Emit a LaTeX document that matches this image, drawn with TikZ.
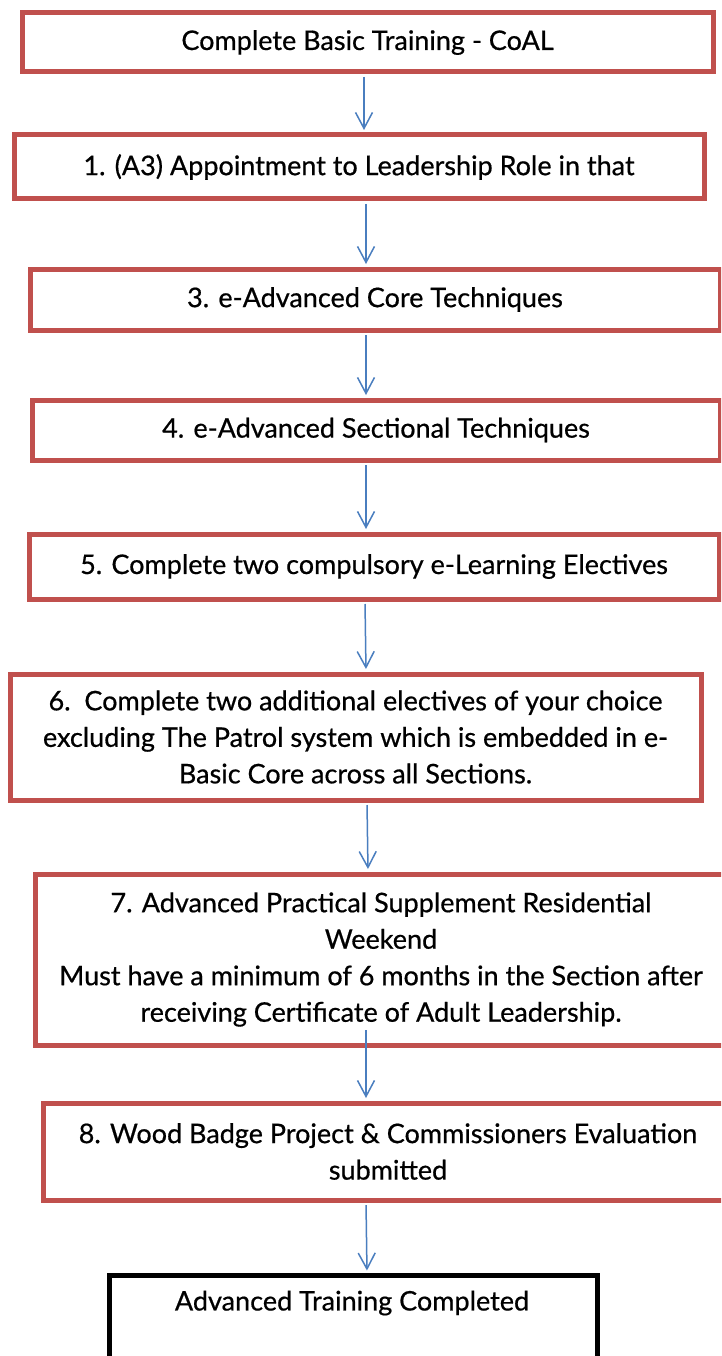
\documentclass[tikz,border=0pt]{standalone}
\usepackage{fontspec}
\setmainfont{Lato}
\newfontfamily\boxfont{Lato}[FakeBold=0.6]
\usetikzlibrary{arrows.meta}
\definecolor{boxred}{HTML}{C0504D}
\definecolor{arrblue}{HTML}{4A7EBF}
\begin{document}
\begin{tikzpicture}[x=1pt,y=-1pt,
  redbox/.style={draw=boxred,line width=5pt,inner sep=0pt,align=center,
    font=\boxfont\fontsize{27}{36.5}\selectfont},
  blackbox/.style={draw=black,line width=5pt,inner sep=0pt},
  txt/.style={inner sep=0pt,align=center,font=\boxfont\fontsize{27}{36.5}\selectfont},
  arr/.style={draw=arrblue,line width=1.5pt,-{Straight Barb[length=16pt,width=17pt]},
    shorten <=2.5pt,shorten >=2.5pt}]
\useasboundingbox (0,0) rectangle (721,1356);
\clip (0,0) rectangle (721,1356);
\fill[white] (0,0) rectangle (721,1356);
% boxes: (left+right)/2, (top+bottom)/2
\node[redbox,minimum width=691,minimum height=59] (b1) at (367.5,42.5) {Complete Basic Training - CoAL};
\node[redbox,minimum width=690,minimum height=64] (b2) at (359,167) {1. (A3) Appointment to Leadership Role in that};
\node[redbox,minimum width=690,minimum height=61] (b3) at (375,299.5) {3. e-Advanced Core Techniques};
\node[redbox,minimum width=688,minimum height=60] (b4) at (376,430) {4. e-Advanced Sectional Techniques};
\node[redbox,minimum width=690,minimum height=65] (b5) at (374,566.5) {5. Complete two compulsory e-Learning Electives};
\node[redbox,minimum width=691,minimum height=126] (b6) at (355.5,737) {6.\ \ Complete two additional electives of your choice\\excluding The Patrol system which is embedded in e-\\Basic Core across all Sections.};
\node[redbox,minimum width=692,minimum height=171] (b7) at (381,959.5) {7. Advanced Practical Supplement Residential\\Weekend\\Must have a minimum of 6 months in the Section after\\receiving Certificate of Adult Leadership.};
\node[redbox,minimum width=690,minimum height=97] (b8) at (388,1151.5) {8. Wood Badge Project \& Commissioners Evaluation\\submitted};
\node[blackbox,minimum width=488,minimum height=140,anchor=north] (b9) at (353,1273) {};
\node[txt] (t9) at (352,1303) {Advanced Training Completed};
% arrows
\coordinate (s7) at (366,1030);
\draw[arr] (364,0 |- b1.south) -- (364,0 |- b2.north);
\draw[arr] (366,0 |- b2.south) -- (366,0 |- b3.north);
\draw[arr] (366,0 |- b3.south) -- (366,0 |- b4.north);
\draw[arr] (366,0 |- b4.south) -- (366,0 |- b5.north);
\draw[arr] (365,0 |- b5.south) -- (366,0 |- b6.north);
\draw[arr] (367,0 |- b6.south) -- (368,0 |- b7.north);
\draw[arr,shorten <=0pt] (s7) -- (366,0 |- b8.north);
\draw[arr] (366,0 |- b8.south) -- (367,0 |- b9.north);
\end{tikzpicture}
\end{document}
